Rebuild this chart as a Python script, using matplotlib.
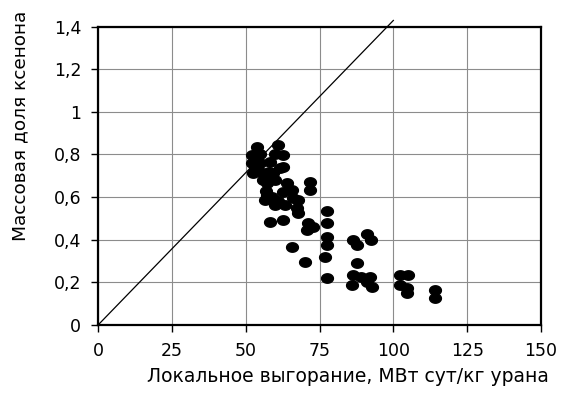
import numpy as np
import matplotlib
matplotlib.use("Agg")
import matplotlib.pyplot as plt
from matplotlib.path import Path

# Local burnup, MWd/kg U
burnup = [53.8, 52.2, 52.2, 52.5, 54.9, 55.9, 58.2, 57.2, 61.0, 62.6,
          62.6, 59.3, 64.0, 62.6, 65.7, 57.2, 56.6, 66.0, 67.7, 59.9,
          63.3, 67.4, 67.7, 71.8, 71.8, 58.2, 62.6, 71.1, 72.8, 70.8,
          65.7, 70.1, 53.2, 57.6, 61.6,
          55.0, 54.0, 56.0, 58.0, 60.0, 60.0, 57.0, 59.0, 61.0,
          77.5, 77.5, 77.5, 77.5, 76.9, 77.5,
          86.4, 87.7, 91.1, 92.4, 87.7, 86.4, 86.0, 89.1, 92.1, 91.1, 92.8,
          102.3, 105.0, 102.3, 104.6, 104.6,
          114.1, 114.1]

# Xenon mass fraction
xenon_fraction = [0.836, 0.798, 0.761, 0.714, 0.761, 0.714, 0.765, 0.667, 0.845, 0.798,
                  0.742, 0.714, 0.667, 0.624, 0.634, 0.610, 0.587, 0.596, 0.587, 0.563,
                  0.563, 0.549, 0.526, 0.671, 0.634, 0.484, 0.493, 0.479, 0.460, 0.446,
                  0.366, 0.296, 0.737, 0.695, 0.737,
                  0.800, 0.740, 0.680, 0.720, 0.800, 0.680, 0.630, 0.600, 0.580,
                  0.535, 0.479, 0.413, 0.376, 0.319, 0.221,
                  0.399, 0.376, 0.427, 0.399, 0.291, 0.235, 0.188, 0.225, 0.225, 0.202, 0.178,
                  0.235, 0.235, 0.188, 0.174, 0.150,
                  0.164, 0.127]

# Reference line y = x / 70
ref_x = [0, 100]
ref_slope = 1 / 70

x_ticks = [0, 25, 50, 75, 100, 125, 150]
y_ticks = [0, 0.2, 0.4, 0.6, 0.8, 1.0, 1.2, 1.4]
y_tick_labels = ["0", "0,2", "0,4", "0,6", "0,8", "1", "1,2", "1,4"]

plt.rcParams["font.family"] = ["DejaVu Sans"]

fig = plt.figure(figsize=(5.63, 3.96), dpi=100)
ax = fig.add_axes([0.174, 0.179, 0.787, 0.754])

# Slightly wide elliptical marker
t = np.linspace(0, 2 * np.pi, 60)
ellipse = Path(np.column_stack([np.cos(t), 0.8 * np.sin(t)]), closed=True)

ax.plot(ref_x, [v * ref_slope for v in ref_x], color="black", lw=0.9,
        clip_on=False, zorder=2)
ax.plot(burnup, xenon_fraction, linestyle="none", marker=ellipse,
        markersize=8.5, color="black", zorder=3)

ax.set_xlim(0, 150)
ax.set_ylim(0, 1.4)
ax.set_xticks(x_ticks)
ax.set_xticklabels([str(v) for v in x_ticks])
ax.set_yticks(y_ticks)
ax.set_yticklabels(y_tick_labels)

ax.grid(True, color="#8c8c8c", lw=0.8)
ax.set_axisbelow(True)
for side in ax.spines.values():
    side.set_linewidth(1.6)
    side.set_color("black")

ax.tick_params(direction="out", length=5, width=1.0, pad=7, labelsize=12.5,
               colors="black")

fig.text(348 / 563, 1 - 377 / 396, "Локальное выгорание, МВт сут/кг урана",
         ha="center", va="center", fontsize=13.5)
fig.text(20 / 563, 1 - 241 / 396, "Массовая доля ксенона", rotation=90,
         ha="center", va="bottom", fontsize=13.3)

fig.savefig("out.png", dpi=100)
